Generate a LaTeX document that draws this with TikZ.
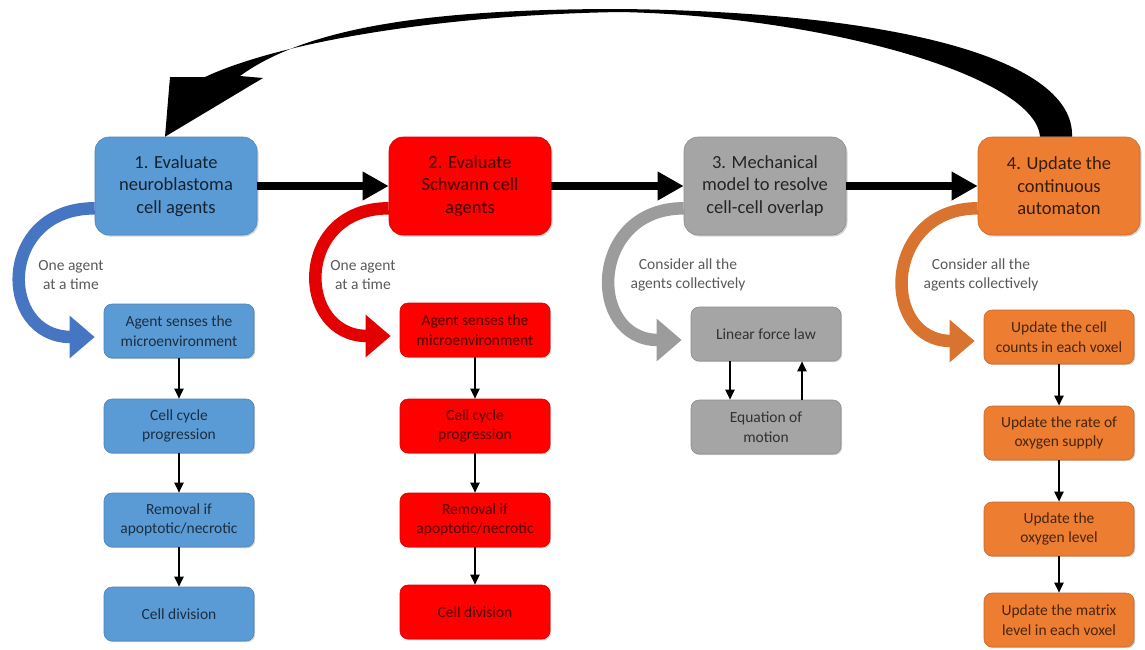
\documentclass[tikz,border=0pt]{standalone}
\usepackage{fontspec}
\setmainfont{Carlito}
\usetikzlibrary{arrows.meta,calc,shadows}
\definecolor{nbblue}{HTML}{5B9BD5}
\definecolor{nbswoop}{HTML}{4675C2}
\definecolor{swred}{HTML}{FF0000}
\definecolor{swswoop}{HTML}{E30000}
\definecolor{mechgray}{HTML}{A5A5A5}
\definecolor{mechswoop}{HTML}{9C9C9C}
\definecolor{caorange}{HTML}{ED7D31}
\definecolor{caswoop}{HTML}{D8742F}
\definecolor{notegray}{HTML}{595959}
\tikzset{
  mainbox/.style={rounded corners=14pt, fill=#1, draw=#1!85!black, line width=0.6pt,
    text=#1!22!black, minimum width=162pt, minimum height=98pt, align=center,
    font=\fontsize{18.5}{22.5}\selectfont,
    drop shadow={shadow xshift=1.5pt, shadow yshift=-1.5pt, opacity=0.35}},
  subbox/.style={rounded corners=8pt, fill=#1, draw=#1!85!black, line width=0.6pt,
    text=#1!30!black, minimum width=150pt, minimum height=54pt, align=center,
    font=\fontsize{15.5}{19.5}\selectfont,
    drop shadow={shadow xshift=1.2pt, shadow yshift=-1.2pt, opacity=0.35}},
  steparrow/.style={line width=7.5pt, -{Triangle[length=26pt,width=27pt]}},
  thinarrow/.style={line width=2pt, -{Triangle[length=10pt,width=9pt]}},
  swoop/.style={line width=12.5pt, draw=#1, -{Triangle[length=25pt,width=41pt]}},
  note/.style={text=notegray, align=center, font=\fontsize{15.5}{19.5}\selectfont},
}
\begin{document}
\begin{tikzpicture}[x=1pt,y=-1pt]
    \useasboundingbox (0,0) rectangle (1145,649);
    % main loop
    \node[mainbox=nbblue] (nb) at (176,186) {1. Evaluate\\neuroblastoma\\cell agents};
    \node[mainbox=swred] (sw) at (470,186) {2. Evaluate\\Schwann cell\\agents};
    \node[mainbox=mechgray] (mech) at (765,186) {3. Mechanical\\model to resolve\\cell-cell overlap};
    \node[mainbox=caorange] (ca) at (1059,186) {4. Update the\\continuous\\automaton};
    \draw[steparrow] (nb) -- (sw); \draw[steparrow] (sw) -- (mech); \draw[steparrow] (mech) -- (ca);
    % neuroblastoma agents
    \node[subbox=nbblue] (nb1) at (179,331) {Agent senses the\\microenvironment};
    \node[subbox=nbblue] (nb2) at (179,426) {Cell cycle\\progression};
    \node[subbox=nbblue] (nb3) at (179,520) {Removal if\\apoptotic/necrotic};
    \node[subbox=nbblue] (nb4) at (179,614) {Cell division};
    % Schwann cell agents
    \node[subbox=swred] (sw1) at (475,330) {Agent senses the\\microenvironment};
    \node[subbox=swred] (sw2) at (475,426) {Cell cycle\\progression};
    \node[subbox=swred] (sw3) at (475,520) {Removal if\\apoptotic/necrotic};
    \node[subbox=swred] (sw4) at (475,612) {Cell division};
    % mechanics
    \node[subbox=mechgray] (force) at (766,334) {Linear force law};
    \node[subbox=mechgray] (motion) at (766,427) {Equation of\\motion};
    % continuous automaton
    \node[subbox=caorange] (ca1) at (1059,337) {Update the cell\\counts in each voxel};
    \node[subbox=caorange] (ca2) at (1059,433) {Update the rate of\\oxygen supply};
    \node[subbox=caorange] (ca3) at (1059,529) {Update the\\oxygen level};
    \node[subbox=caorange] (ca4) at (1059,620) {Update the matrix\\level in each voxel};
    \foreach \col in {nb,sw,ca} {
      \draw[thinarrow] (\col1) -- (\col2); \draw[thinarrow] (\col2) -- (\col3); \draw[thinarrow] (\col3) -- (\col4);
    }
    \draw[thinarrow] ([xshift=-36pt]force.south) -- ([xshift=-36pt]motion.north);
    \draw[thinarrow] ([xshift=36pt]motion.north) -- ([xshift=36pt]force.south);
    % curved arrows into the sub-steps
    \draw[swoop=nbswoop] ([yshift=27pt]nb.south west) .. controls +(-97,0) and +(-97,0) .. ([xshift=-9pt,yshift=-6pt]nb1.west);
    \draw[swoop=swswoop] ([yshift=27pt]sw.south west) .. controls +(-95,0) and +(-95,0) .. ([xshift=-9pt,yshift=-6pt]sw1.west);
    \draw[swoop=mechswoop] ([yshift=27pt]mech.south west) .. controls +(-95,0) and +(-95,0) .. ([xshift=-9pt,yshift=-6pt]force.west);
    \draw[swoop=caswoop] ([yshift=27pt]ca.south west) .. controls +(-95,0) and +(-95,0) .. ([xshift=-9pt,yshift=-4pt]ca1.west);
    \node[note] (nbnote) at (71,275) {One agent\\at a time};
    \node[note] (swnote) at (363,275) {One agent\\at a time};
    \node[note] (mechnote) at (688,275) {Consider all the\\agents collectively};
    \node[note] (canote) at (981,275) {Consider all the\\agents collectively};
    % return arrow: automaton back to neuroblastoma
    \coordinate (outerA) at ([xshift=13pt]ca.north);
    \coordinate (innerA) at ([xshift=-19pt]ca.north);
    \coordinate (tipB) at ([xshift=-11pt]nb.north);
    \fill (outerA) .. controls (1075,60) and (900,12) .. (620,9)
          .. controls (440,9) and (310,25) .. (240,76) -- (263,78) -- (tipB) -- (170,77) -- (205,77)
          .. controls (280,42) and (440,15) .. (620,12)
          .. controls (820,16) and (1035,75) .. (innerA) -- cycle;
\end{tikzpicture}
\end{document}
